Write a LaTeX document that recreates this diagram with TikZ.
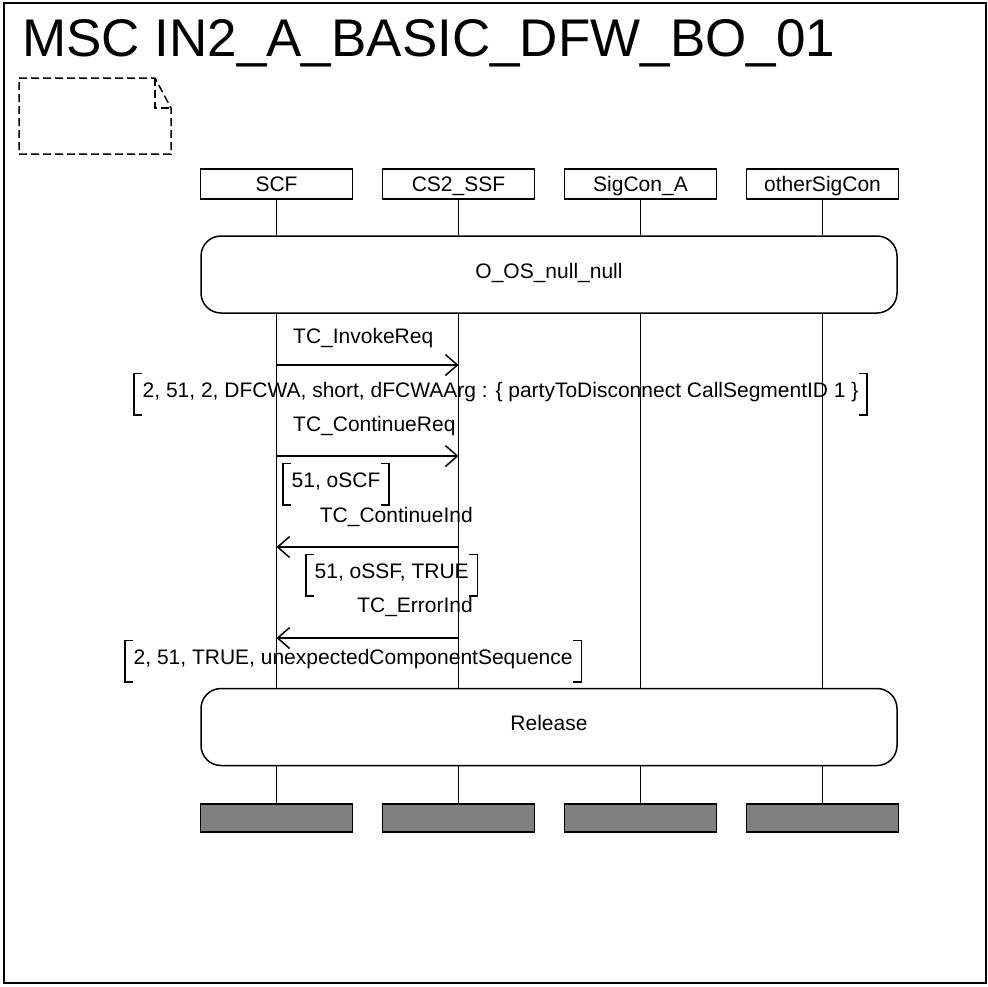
\documentclass[tikz,border=0pt]{standalone}
\usepackage{fontspec}
\setmainfont{Liberation Sans}
\usetikzlibrary{arrows.meta}
\definecolor{endgray}{RGB}{128,128,128}
\begin{document}
\begin{tikzpicture}[x=1pt,y=-1pt,
  txt/.style={font=\fontsize{21}{25}\selectfont, inner sep=0pt},
  hdr/.style={draw, line width=1.5pt, minimum width=152pt, minimum height=30pt, inner sep=0pt, text height=16pt, text depth=1pt, font=\fontsize{21}{25}\selectfont},
  endbox/.style={draw, fill=endgray, line width=1.5pt, minimum width=152pt, minimum height=28pt, inner sep=0pt},
  refbox/.style={draw, rounded corners=20pt, line width=1.5pt, minimum width=696pt, minimum height=77pt, inner sep=0pt, text height=15pt, text depth=8pt, font=\fontsize{21}{25}\selectfont},
  life/.style={line width=1.3pt},
  msg/.style={line width=1.3pt, -{Straight Barb[length=12pt,width=21pt,line width=1.5pt]}},
  param/.style={txt, anchor=base west, inner xsep=8.5pt, inner ysep=8pt, text height=15.5pt, text depth=9.5pt},
  brk/.style={line width=1.6pt},
  note/.style={line width=1.5pt, dash pattern=on 8pt off 4pt}
]
\useasboundingbox (0,0) rectangle (988,986);
% frame
\draw[line width=2pt] (4,3) rectangle (986,983);
\node[anchor=base west, font=\fontsize{53}{60}\selectfont, inner sep=0pt] (title) at (22,56) {MSC IN2\_A\_BASIC\_DFW\_BO\_01};
% comment symbol
\draw[note] (19,78) -- (155,78) -- (171,108) -- (171,154) -- (19,154) -- cycle;
\draw[note] (155,78) -- (155,108) -- (171,108);
% headers
\node[hdr] (h1) at (276.5,184) {SCF};
\node[hdr] (h2) at (458.5,184) {CS2\_SSF};
\node[hdr] (h3) at (640.5,184) {SigCon\_A};
\node[hdr] (h4) at (822.5,184) {otherSigCon};
% reference boxes
\node[refbox] (oos) at (549,274.5) {O\_OS\_null\_null};
\node[refbox] (rel) at (549,727) {Release};
% end boxes
\node[endbox] (e1) at (276.5,818) {};
\node[endbox] (e2) at (458.5,818) {};
\node[endbox] (e3) at (640.5,818) {};
\node[endbox] (e4) at (822.5,818) {};
% lifelines
\foreach \i in {1,2,3,4}{
  \draw[life] (h\i.south) -- (h\i.south |- oos.north);
  \draw[life] (h\i.south |- oos.south) -- (h\i.south |- rel.north);
  \draw[life] (h\i.south |- rel.south) -- (e\i.north);
}
% messages
\draw[msg] (h1.south |- 0,365) -- (h2.south |- 0,365);
\node[txt, anchor=base west] (l1) at (293,343) {TC\_InvokeReq};
\draw[msg] (h1.south |- 0,456) -- (h2.south |- 0,456);
\node[txt, anchor=base west] (l2) at (293,431) {TC\_ContinueReq};
\draw[msg] (h2.south |- 0,547) -- (h1.south |- 0,547);
\node[txt, anchor=base east] (l3) at (473,522) {TC\_ContinueInd};
\draw[msg] (h2.south |- 0,638) -- (h1.south |- 0,638);
\node[txt, anchor=base east] (l4) at (473,612) {TC\_ErrorInd};
% parameters
\node[param] (p1) at (134,397) {2, 51, 2, DFCWA, short, dFCWAArg : \{ partyToDisconnect CallSegmentID 1 \}};
\node[param] (p2) at (283,487) {51, oSCF};
\node[param] (p3) at (306,578) {51, oSSF, TRUE};
\node[param] (p4) at (125,664) {2, 51, TRUE, unexpectedComponentSequence};
\foreach \p in {p1,p2,p3,p4}{
  \draw[brk] ([xshift=8pt]\p.north west) -- (\p.north west) -- (\p.south west) -- ([xshift=8pt]\p.south west);
  \draw[brk] ([xshift=-8pt]\p.north east) -- (\p.north east) -- (\p.south east) -- ([xshift=-8pt]\p.south east);
}
\end{tikzpicture}
\end{document}
